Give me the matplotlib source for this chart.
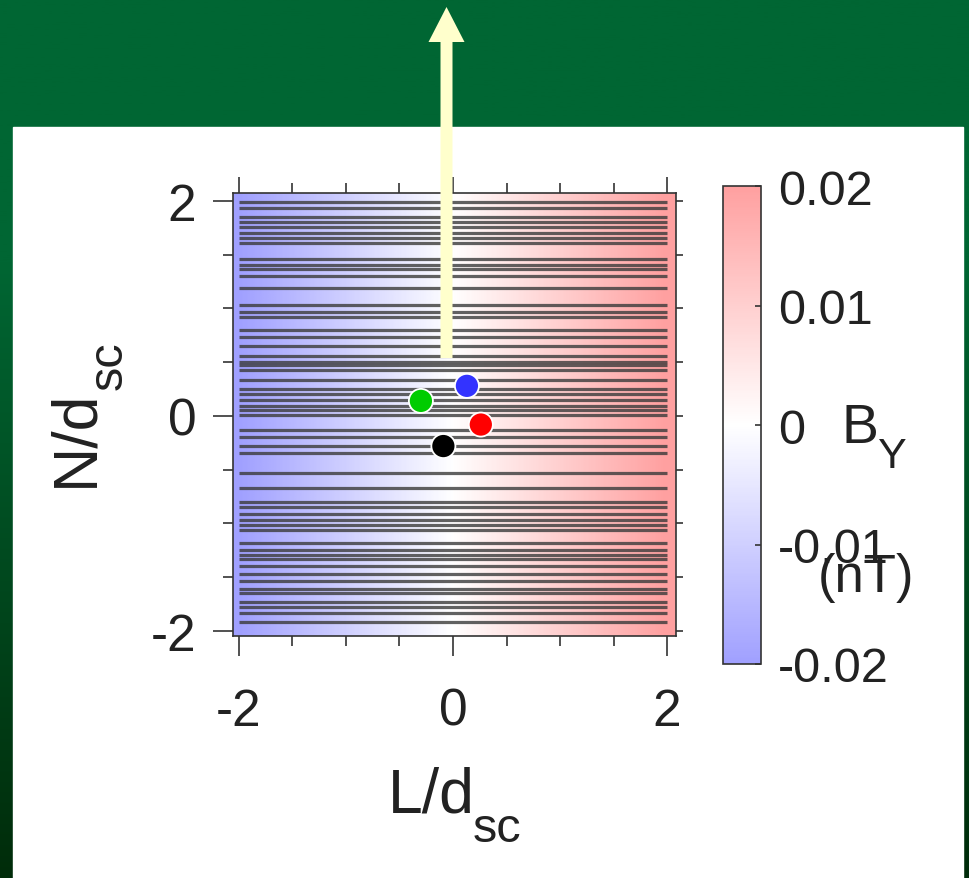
import numpy as np
import matplotlib
matplotlib.use('Agg')
import matplotlib.pyplot as plt
from matplotlib.colors import LinearSegmentedColormap, Normalize
from matplotlib.cm import ScalarMappable
from matplotlib.patches import Rectangle, FancyArrow
from matplotlib.ticker import MultipleLocator

plt.rcParams['font.family'] = ['Liberation Sans', 'DejaVu Sans']
plt.rcParams['axes.unicode_minus'] = False

# ---------------- data ----------------
L_profile = [-2, -1, 0, 1, 2]
BY_profile = [-0.02, -0.01, 0.0, 0.01, 0.02]

field_line_N = [1.99, 1.93, 1.85, 1.80, 1.76, 1.70, 1.66, 1.61, 1.46, 1.40,
                1.37, 1.30, 1.19, 1.03, 0.97, 0.92, 0.80, 0.73, 0.65, 0.56,
                0.50, 0.47, 0.43, 0.33, 0.25, 0.20, 0.15, 0.09, 0.06, 0.01,
                -0.13, -0.20, -0.28, -0.34, -0.53, -0.67, -0.80, -0.85, -0.91,
                -0.97, -1.01, -1.06, -1.18, -1.25, -1.29, -1.33, -1.40, -1.47,
                -1.54, -1.61, -1.65, -1.73, -1.78, -1.83, -1.92]
field_line_L_range = [-2.0, 2.0]

point_L = [0.13, -0.30, 0.26, -0.09]
point_N = [0.28, 0.14, -0.08, -0.28]
point_colors = ['#3333ff', '#00cc00', '#ff0000', '#000000']

x_ticks = [-2, 0, 2]
x_ticklabels = ['-2', '0', '2']
y_ticks = [-2, 0, 2]
y_ticklabels = ['-2', '0', '2']
cbar_ticks = [-0.02, -0.01, 0.0, 0.01, 0.02]
cbar_ticklabels = ['-0.02', '-0.01', '0', '0.01', '0.02']

# ---------------- figure ----------------
W, H = 969, 879
fig = plt.figure(figsize=(W / 100, H / 100), dpi=100)


def fx(px):
    return px / W


def fy(py):
    return 1 - py / H


# slide background
bg = fig.add_axes([0, 0, 1, 1], zorder=-10)
bg.set_axis_off()
rows = np.linspace(0, 1, 400)
top_c = np.array([0, 102, 51]) / 255
bot_c = np.array([0, 44, 10]) / 255
t = np.clip((rows - 0.3) / 0.7, 0, 1)
grad = top_c[None, :] * (1 - t[:, None]) + bot_c[None, :] * t[:, None]
bg.imshow(grad[:, None, :], aspect='auto', extent=(0, 1, 0, 1), origin='upper')
bg.add_patch(Rectangle((fx(13), 0), fx(963) - fx(13), fy(128), color='white'))
bg.set_xlim(0, 1)
bg.set_ylim(0, 1)

# main axes
ax = fig.add_axes([fx(233), fy(637), fx(676) - fx(233), fy(194) - fy(637)])
cmap = LinearSegmentedColormap.from_list('by', ['#a0a0ff', '#ffffff', '#ffa0a0'])
norm = Normalize(vmin=-0.02, vmax=0.02)
By = np.array([BY_profile, BY_profile])
ax.imshow(By, cmap=cmap, norm=norm, extent=(-2.5, 2.5, -2.5, 2.5),
          interpolation='bilinear', aspect='auto', zorder=0)
ax.hlines(field_line_N, field_line_L_range[0], field_line_L_range[1],
          colors='#3a3a3a', linewidth=2.3, alpha=0.8, zorder=2)
ax.scatter(point_L, point_N, s=300, c=point_colors, edgecolors='white',
           linewidths=1.3, zorder=5)
ax.set_xlim(-2.056, 2.084)
ax.set_ylim(-2.047, 2.074)

ax.set_xticks(x_ticks, labels=x_ticklabels)
ax.set_yticks(y_ticks, labels=y_ticklabels)
ax.xaxis.set_minor_locator(MultipleLocator(0.5))
ax.yaxis.set_minor_locator(MultipleLocator(0.5))
ax.tick_params(axis='both', which='major', direction='out', length=14.4, width=1.2,
               color='#333333', labelsize=37, labelcolor='#222222')
ax.tick_params(axis='both', which='minor', direction='out', length=7.2, width=1.2,
               color='#333333')
ax.tick_params(axis='x', which='major', pad=22)
ax.tick_params(axis='y', which='major', pad=12)
for s in ax.spines.values():
    s.set_color('#333333')
    s.set_linewidth(1.2)

sx = ax.secondary_xaxis('top')
sx.set_xticks(x_ticks, labels=['', '', ''])
sx.xaxis.set_minor_locator(MultipleLocator(0.5))
sx.tick_params(which='major', direction='out', length=11.5, width=1.2, color='#333333')
sx.tick_params(which='minor', direction='out', length=7.2, width=1.2, color='#333333')
sx.spines['top'].set_visible(False)

sy = ax.secondary_yaxis('right')
sy.set_yticks(y_ticks, labels=['', '', ''])
sy.yaxis.set_minor_locator(MultipleLocator(0.5))
sy.tick_params(which='both', direction='out', length=5, width=1.2, color='#333333')
sy.spines['right'].set_visible(False)

# axis labels
fig.text(fx(388), fy(813), 'L/d', fontsize=45, color='#222222', ha='left', va='baseline')
fig.text(fx(473), fy(842), 'sc', fontsize=35, color='#222222', ha='left', va='baseline')
fig.text(fx(92), fy(487), 'N/d', fontsize=45, color='#222222', ha='left', va='baseline',
         rotation=90, rotation_mode='anchor')
fig.text(fx(122), fy(390), 'sc', fontsize=35, color='#222222', ha='left', va='baseline',
         rotation=90, rotation_mode='anchor')

# colorbar
cax = fig.add_axes([fx(723), fy(665), fx(761) - fx(723), fy(187) - fy(665)])
cb = fig.colorbar(ScalarMappable(norm=norm, cmap=cmap), cax=cax, ticks=cbar_ticks)
cb.ax.set_yticklabels(cbar_ticklabels)
cax.tick_params(direction='in', length=4, width=1.2, color='#333333',
                labelsize=35, labelcolor='#222222', pad=12)
cb.outline.set_edgecolor('#333333')
cb.outline.set_linewidth(1.2)

fig.text(fx(842), fy(443), 'B', fontsize=40, color='#222222', ha='left', va='baseline')
fig.text(fx(878), fy(468), 'Y', fontsize=31, color='#222222', ha='left', va='baseline')
fig.text(fx(818), fy(592), '(nT)', fontsize=38, color='#222222', ha='left', va='baseline')

# yellow arrow
arrow = FancyArrow(446.5 / 100, (H - 359) / 100, 0, (359 - 8) / 100,
                   width=0.12, head_width=0.36, head_length=0.35,
                   length_includes_head=True, transform=fig.dpi_scale_trans,
                   color='#ffffcc', linewidth=0, zorder=10)
fig.add_artist(arrow)

fig.savefig('out.png', dpi=100)
